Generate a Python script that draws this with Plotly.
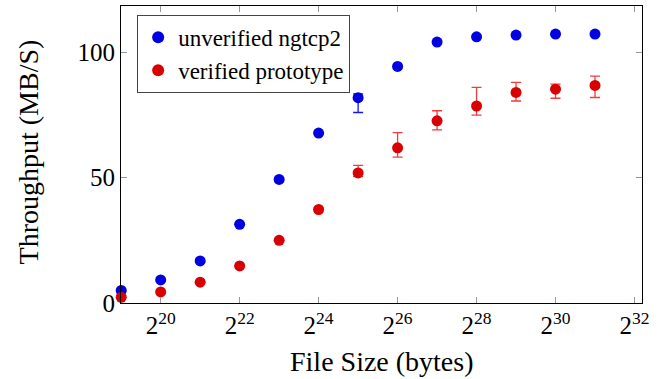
import math
import plotly.graph_objects as go

exponents = list(range(19, 32))
file_sizes = [2 ** e for e in exponents]

unverified = [5.0, 9.2, 16.8, 31.4, 49.3, 67.8, 81.9, 94.4, 104.1, 106.2, 106.9, 107.3, 107.3]
unverified_err_plus = [None, None, None, None, None, None, 1.5, None, None, None, None, None, None]
unverified_err_minus = [None, None, None, None, None, None, 5.9, None, None, None, None, None, None]

verified = [2.3, 4.4, 8.3, 14.8, 25.0, 37.3, 51.9, 61.9, 72.7, 78.6, 84.0, 85.3, 86.8]
verified_err_plus = [None, None, None, None, None, None, 3.0, 6.1, 4.0, 7.4, 4.0, 2.0, 3.7]
verified_err_minus = [None, None, None, None, None, None, 1.5, 3.7, 3.6, 3.6, 3.4, 3.6, 4.8]

x_tick_exps = [20, 22, 24, 26, 28, 30, 32]
x_tick_vals = [2 ** e for e in x_tick_exps]
x_tick_text = [f"2<sup>{e}</sup>" for e in x_tick_exps]
y_tick_vals = [0, 50, 100]

x_title = "File Size (bytes)"
y_title = "Throughput (MB/S)"

FONT = "Liberation Serif"
TICK_SIZE = 25

fig = go.Figure()
fig.add_trace(go.Scatter(
    x=file_sizes, y=unverified, mode="markers", name="unverified ngtcp2",
    marker=dict(color="#0000e0", size=11),
    error_y=dict(type="data", symmetric=False, array=unverified_err_plus,
                 arrayminus=unverified_err_minus, color="#1414f0",
                 thickness=1.3, width=5),
    cliponaxis=False,
))
fig.add_trace(go.Scatter(
    x=file_sizes, y=verified, mode="markers", name="verified prototype",
    marker=dict(color="#d80000", size=11),
    error_y=dict(type="data", symmetric=False, array=verified_err_plus,
                 arrayminus=verified_err_minus, color="#f03c3c",
                 thickness=1.3, width=5),
    cliponaxis=False,
))

fig.update_layout(
    width=664, height=379,
    margin=dict(l=121, r=22, t=6, b=76, autoexpand=False),
    paper_bgcolor="white", plot_bgcolor="white",
    font=dict(family=FONT, size=TICK_SIZE, color="black"),
    showlegend=True,
    legend=dict(x=0.031, y=0.97, xanchor="left", yanchor="top",
                bordercolor="#444444", borderwidth=1, bgcolor="white",
                font=dict(size=23, family=FONT), itemsizing="constant",
                tracegroupgap=0, itemwidth=30),
    xaxis=dict(
        type="log", automargin=False,
        range=[18.995 * math.log10(2), 32.19 * math.log10(2)],
        tickvals=x_tick_vals, ticktext=x_tick_text,
        ticks="inside", ticklen=6, tickcolor="#999999", tickwidth=1,
        showline=True, linecolor="black", linewidth=1, mirror="ticks",
        showgrid=False, zeroline=False,
        tickfont=dict(size=TICK_SIZE),
    ),
    yaxis=dict(
        range=[0, 118.5], automargin=False,
        tickvals=y_tick_vals,
        ticks="inside", ticklen=6, tickcolor="#999999", tickwidth=1,
        showline=True, linecolor="black", linewidth=1, mirror="ticks",
        showgrid=False, zeroline=False,
        tickfont=dict(size=TICK_SIZE),
    ),
    annotations=[
        dict(text=x_title, xref="paper", yref="paper", x=0.5, y=0,
             xanchor="center", yanchor="middle", yshift=-58, showarrow=False,
             font=dict(size=28, family=FONT)),
        dict(text=y_title, xref="paper", yref="paper", x=0, y=0.507,
             xanchor="center", yanchor="middle", xshift=-93, textangle=-90,
             showarrow=False, font=dict(size=28, family=FONT)),
    ],
)

fig.write_html("out.html", config={"displayModeBar": False},
               post_script="document.body.style.margin='0px';")
